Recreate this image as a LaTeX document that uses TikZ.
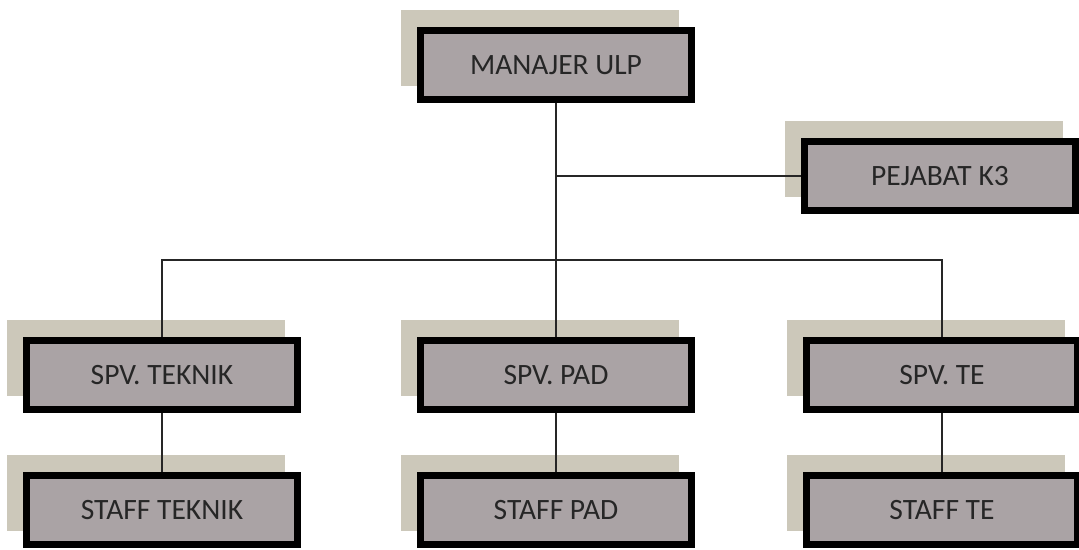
\documentclass[tikz,border=0pt]{standalone}
\usepackage{fontspec}
\setmainfont{Carlito}
\usepackage{tikz}
\usetikzlibrary{shadows}
\definecolor{boxgray}{RGB}{170,163,165}
\definecolor{shadowtan}{RGB}{204,200,186}

\begin{document}
\begin{tikzpicture}[
  unit/.style={draw=black,fill=boxgray,line width=0.175cm,
    minimum width=6.775cm,minimum height=1.725cm,inner sep=0pt,
    font=\fontsize{21}{25}\selectfont,text=black!85,
    general shadow={fill=shadowtan,draw=shadowtan,line width=0.175cm,
      shadow xshift=-0.4cm,shadow yshift=0.42cm}},
  link/.style={draw=black!85,line width=1.5pt}]
  \useasboundingbox (0,0) rectangle (26.975,13.75);
  \node[unit] (manajer) at (13.9,12.125) {MANAJER ULP};
  \node[unit] (pejabat) at (23.5,9.36) {PEJABAT K3};
  \node[unit] (spvteknik) at (4.05,4.375) {SPV. TEKNIK};
  \node[unit] (spvpad) at (13.9,4.375) {SPV. PAD};
  \node[unit] (spvte) at (23.55,4.375) {SPV. TE};
  \node[unit] (staffteknik) at (4.05,1.0) {STAFF TEKNIK};
  \node[unit] (staffpad) at (13.9,1.0) {STAFF PAD};
  \node[unit] (staffte) at (23.55,1.0) {STAFF TE};
  \coordinate (bus) at (13.9,7.25);
  \coordinate (k3) at (manajer.south |- pejabat.west);
  \draw[link]
  (manajer.south) -- (spvpad.north)
  (k3) -- (pejabat.west)
  (spvteknik.north) |- (bus) -| (spvte.north)
  (spvteknik.south) -- (staffteknik.north)
  (spvpad.south) -- (staffpad.north)
  (spvte.south) -- (staffte.north);
\end{tikzpicture}
\end{document}
